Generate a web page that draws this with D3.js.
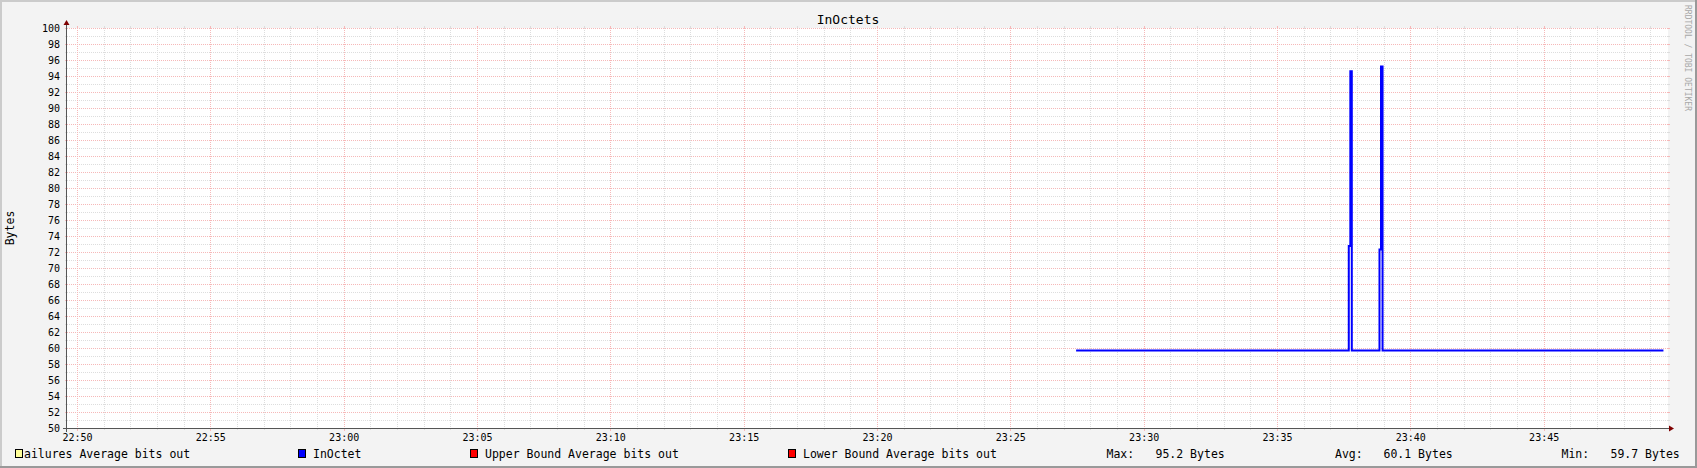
<!DOCTYPE html>
<html><head><meta charset="utf-8">
<script src="https://cdn.jsdelivr.net/npm/d3@7"></script>
<style>html,body{margin:0;padding:0;background:#f3f3f3;overflow:hidden} svg{display:block}</style>
</head><body><svg id="c" width="1697" height="468"></svg>
<script>
const chartTitle = "InOctets";
const yAxisLabel = "Bytes";
const watermark = "RRDTOOL / TOBI OETIKER";
const yTickLabels = [50,52,54,56,58,60,62,64,66,68,70,72,74,76,78,80,82,84,86,88,90,92,94,96,98,100];
const xTickLabels = ["22:50","22:55","23:00","23:05","23:10","23:15","23:20","23:25","23:30","23:35","23:40","23:45"];
const timeDomain = ["22:49:37.5","23:49:39.75"];
const inOctetTimes = ["23:27:28","23:37:41.5","23:37:45","23:37:48.3","23:38:50.6","23:38:54","23:38:57.5","23:49:29.5"];
const inOctetValues = [59.7,72.75,94.6,59.7,72.3,95.2,59.7,59.7];
const legendLabels = ["ailures Average bits out","InOctet","Upper Bound Average bits out","Lower Bound Average bits out"];
const legendColors = ["#FFFF99","#0000FF","#FF0000","#FF0000"];
const statLabels = ["Max:","Avg:","Min:"];
const statValues = ["95.2 Bytes","60.1 Bytes","59.7 Bytes"];

const W = 1697, H = 468;
const L = 67, R = 1668, T = 28, B = 428;
const FONT = "'DejaVu Sans Mono', monospace";

function pt(s){
  const p = s.split(":").map(Number);
  return new Date(Date.UTC(2024,0,1,p[0],p[1],0) + p[2]*1000);
}

const svg = d3.select("#c");
const x = d3.scaleUtc().domain(timeDomain.map(pt)).range([L, R]);
const y = d3.scaleLinear().domain([50,100]).range([B, T]);

// background and frame
svg.append("rect").attr("width",W).attr("height",H).attr("fill","#f3f3f3");
svg.append("rect").attr("x",0).attr("y",0).attr("width",W).attr("height",2).attr("fill","#cbcbcb");
svg.append("rect").attr("x",0).attr("y",0).attr("width",2).attr("height",H).attr("fill","#cbcbcb");
svg.append("rect").attr("x",0).attr("y",H-2).attr("width",W).attr("height",2).attr("fill","#999999");
svg.append("rect").attr("x",W-2).attr("y",0).attr("width",2).attr("height",H).attr("fill","#999999");

// canvas
svg.append("rect").attr("x",L).attr("y",T).attr("width",R-L).attr("height",B-T).attr("fill","#ffffff");

const grid = svg.append("g").attr("shape-rendering","crispEdges");
const minorCol = "#dddddd", majorCol = "#f6b8b8";

// minor horizontal grid
const yMinor = y.ticks(50).filter(v => !yTickLabels.includes(v));
yMinor.forEach(v => {
  const yy = Math.round(y(v)) + 0.5;
  grid.append("line").attr("x1",L-2).attr("x2",R+2).attr("y1",yy).attr("y2",yy)
    .attr("stroke",minorCol).attr("stroke-dasharray","1,1");
  grid.append("line").attr("x1",L-2).attr("x2",L).attr("y1",yy).attr("y2",yy).attr("stroke",minorCol);
  grid.append("line").attr("x1",R).attr("x2",R+2).attr("y1",yy).attr("y2",yy).attr("stroke",minorCol);
});
// minor vertical grid
const xMajorDates = xTickLabels.map(s => pt(s+":0"));
const xMinor = x.ticks(d3.utcMinute.every(1)).filter(d => d.getUTCMinutes() % 5 !== 0);
xMinor.forEach(d => {
  const xx = Math.round(x(d)) + 0.5;
  grid.append("line").attr("x1",xx).attr("x2",xx).attr("y1",T-2).attr("y2",B+2)
    .attr("stroke",minorCol).attr("stroke-dasharray","1,1");
  grid.append("line").attr("x1",xx).attr("x2",xx).attr("y1",B).attr("y2",B+2).attr("stroke",minorCol);
  grid.append("line").attr("x1",xx).attr("x2",xx).attr("y1",T-2).attr("y2",T).attr("stroke",minorCol);
});
// major horizontal
yTickLabels.forEach(v => {
  const yy = Math.round(y(v)) + 0.5;
  grid.append("line").attr("x1",L-2).attr("x2",R+2).attr("y1",yy).attr("y2",yy)
    .attr("stroke",majorCol).attr("stroke-dasharray","1,1");
  grid.append("line").attr("x1",L-2).attr("x2",L).attr("y1",yy).attr("y2",yy).attr("stroke",majorCol);
  grid.append("line").attr("x1",R).attr("x2",R+2).attr("y1",yy).attr("y2",yy).attr("stroke",majorCol);
});
// major vertical
xMajorDates.forEach(d => {
  const xx = Math.round(x(d)) + 0.5;
  grid.append("line").attr("x1",xx).attr("x2",xx).attr("y1",T-2).attr("y2",B+2)
    .attr("stroke",majorCol).attr("stroke-dasharray","1,1");
  grid.append("line").attr("x1",xx).attr("x2",xx).attr("y1",B).attr("y2",B+3).attr("stroke",majorCol);
  grid.append("line").attr("x1",xx).attr("x2",xx).attr("y1",T-2).attr("y2",T).attr("stroke",majorCol);
});

// data line
const pts = inOctetTimes.map((t,i) => [pt(t), inOctetValues[i]]);
const line = d3.line().x(d => x(d[0])).y(d => y(d[1])).curve(d3.curveStepAfter);
svg.append("path").datum(pts).attr("d", line)
  .attr("fill","none").attr("stroke","#0000ff").attr("stroke-width",2)
  .attr("stroke-linejoin","miter").attr("stroke-linecap","butt");

// axes
const ax = svg.append("g").attr("shape-rendering","crispEdges");
ax.append("line").attr("x1",L-0.5).attr("x2",L-0.5).attr("y1",B+4).attr("y2",T-6)
  .attr("stroke","#555555");
ax.append("line").attr("x1",L-4).attr("x2",R+4).attr("y1",B+0.5).attr("y2",B+0.5)
  .attr("stroke","#555555");
svg.append("path").attr("d",`M${L-3.5},${T-3} L${L+2.5},${T-3} L${L-0.5},${T-8} Z`).attr("fill","#7f0000");
svg.append("path").attr("d",`M${R+1},${B-2.5} L${R+1},${B+3.5} L${R+6},${B+0.5} Z`).attr("fill","#7f0000");

// y tick labels
svg.append("g").selectAll("text").data(yTickLabels).join("text")
  .attr("x", 60).attr("y", d => y(d) + 3.8)
  .attr("text-anchor","end").attr("font-family",FONT).attr("font-size","10px").attr("fill","#000")
  .text(d => d);

// x tick labels
svg.append("g").selectAll("text").data(xTickLabels).join("text")
  .attr("x", d => x(pt(d+":0")) + 0.5).attr("y", 441)
  .attr("text-anchor","middle").attr("font-family",FONT).attr("font-size","10px").attr("fill","#000")
  .text(d => d);

// title
svg.append("text").attr("x", W/2 - 0.5).attr("y", 23.5).attr("text-anchor","middle")
  .attr("font-family",FONT).attr("font-size","13px").attr("fill","#000").text(chartTitle);

// y axis label
svg.append("text").attr("transform",`translate(14.2,${(T+B)/2}) rotate(-90)`).attr("text-anchor","middle")
  .attr("font-family",FONT).attr("font-size","11.5px").attr("fill","#000").text(yAxisLabel);

// watermark
svg.append("text").attr("transform",`translate(1684.5,5) rotate(90)`).attr("text-anchor","start")
  .attr("font-family",FONT).attr("font-size","8px").attr("fill","#a8a8a8").text(watermark);

// legend
const legendBoxX = [15.5, 298.5, 470.5, 788.5];
const legendTextX = [24, 313, 485, 803];
const lg = svg.append("g");
legendLabels.forEach((lab,i) => {
  lg.append("rect").attr("x",legendBoxX[i]).attr("y",449.5).attr("width",7).attr("height",8)
    .attr("fill",legendColors[i]).attr("stroke","#000").attr("stroke-width",1);
  lg.append("text").attr("x",legendTextX[i]).attr("y",457.5)
    .attr("font-family",FONT).attr("font-size","11.5px").attr("fill","#000").text(lab);
});
const statLabelX = [1106.5, 1335, 1561.5];
const statValueX = [1155.5, 1383.5, 1610.5];
statLabels.forEach((lab,i) => {
  lg.append("text").attr("x",statLabelX[i]).attr("y",457.5)
    .attr("font-family",FONT).attr("font-size","11.5px").attr("fill","#000").text(lab);
  lg.append("text").attr("x",statValueX[i]).attr("y",457.5)
    .attr("font-family",FONT).attr("font-size","11.5px").attr("fill","#000").text(statValues[i]);
});
</script></body></html>
